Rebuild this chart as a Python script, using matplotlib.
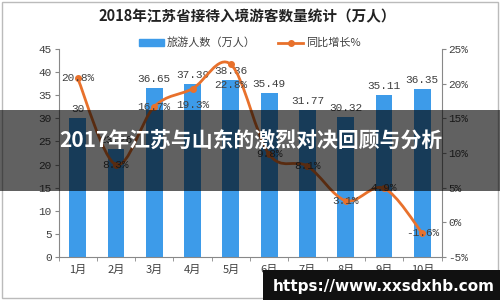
import matplotlib
matplotlib.use("Agg")
import matplotlib.pyplot as plt
import numpy as np
from matplotlib.path import Path
from matplotlib.patches import PathPatch, Rectangle
from matplotlib.lines import Line2D
from matplotlib.ticker import FuncFormatter, FixedLocator

plt.rcParams['font.family'] = ['Noto Sans CJK SC', 'DejaVu Sans']

months = ['1月', '2月', '3月', '4月', '5月', '6月', '7月', '8月', '9月', '10月']
visitors = [30, 23.26, 36.65, 37.39, 38.36, 35.49, 31.77, 30.32, 35.11, 36.35]
growth = [20.8, 8.3, 16.7, 19.3, 22.8, 9.8, 8.1, 3.1, 4.9, -1.6]
visitor_labels = ['30', '23.26', '36.65', '37.39', '38.36', '35.49', '31.77', '30.32', '35.11', '36.35']
growth_labels = ['20.8%', '8.3%', '16.7%', '19.3%', '22.8%', '9.8%', '8.1%', '3.1%', '4.9%', '-1.6%']
title = '2018年江苏省接待入境游客数量统计（万人）'
legend_bar = '旅游人数（万人）'
legend_line = '同比增长%'
overlay_title = '2017年江苏与山东的激烈对决回顾与分析'
url_text = 'https://www.xxsdxhb.com'

BLUE = '#3D9BE9'
ORANGE = '#E8712C'
GRAY = '#404040'
MONO = ['Liberation Mono', 'DejaVu Sans Mono']

fig = plt.figure(figsize=(5, 3), dpi=100)
fig.patch.set_facecolor('white')
ax = fig.add_axes([0.117, 0.144, 0.766, 0.692])

x = np.arange(len(months))
bars = ax.bar(x, visitors, width=0.44, color=BLUE, zorder=2)
ax.set_xlim(-0.5, len(months) - 0.5)
ax.set_ylim(0, 45)
ax.set_yticks(np.arange(0, 46, 5))
for s in ['top', 'right']:
    ax.spines[s].set_visible(False)
for s in ['left', 'bottom']:
    ax.spines[s].set_color('#888888')
    ax.spines[s].set_linewidth(0.8)
ax.tick_params(axis='y', direction='out', length=3, color='#888888', labelsize=8,
               labelcolor=GRAY, pad=2)
ax.set_xticks(x)
ax.set_xticklabels(months, fontsize=8, color=GRAY)
ax.tick_params(axis='x', length=0, pad=6)
ax.xaxis.set_minor_locator(FixedLocator(np.arange(-0.5, len(months), 1.0)))
ax.tick_params(axis='x', which='minor', direction='out', length=3, color='#888888')
for lab in ax.get_yticklabels():
    lab.set_family(MONO)

for xi, v, lab in zip(x, visitors, visitor_labels):
    ax.annotate(lab, (xi, v), xytext=(0, 3), textcoords='offset points',
                ha='center', va='bottom', fontsize=8, color=GRAY, family=MONO, zorder=5)

ax2 = ax.twinx()
ax2.set_position(ax.get_position())
ax2.set_ylim(-5, 25)
ax2.set_yticks(np.arange(-5, 26, 5))
ax2.yaxis.set_major_formatter(FuncFormatter(lambda v, p: f'{int(v)}%'))
for s in ['top', 'left', 'bottom']:
    ax2.spines[s].set_visible(False)
ax2.spines['right'].set_color('#888888')
ax2.spines['right'].set_linewidth(0.8)
ax2.tick_params(axis='y', direction='out', length=3, color='#888888', labelsize=8,
                labelcolor=GRAY, pad=2)
for lab in ax2.get_yticklabels():
    lab.set_family(MONO)

# smoothed line (Catmull-Rom -> Bezier), like Excel smooth line
P = np.column_stack([x, growth]).astype(float)
verts = [P[0]]
codes = [Path.MOVETO]
n = len(P)
for i in range(n - 1):
    p0 = P[i - 1] if i > 0 else P[i]
    p1 = P[i]
    p2 = P[i + 1]
    p3 = P[i + 2] if i + 2 < n else P[i + 1]
    c1 = p1 + (p2 - p0) / 6.0
    c2 = p2 - (p3 - p1) / 6.0
    verts += [c1, c2, p2]
    codes += [Path.CURVE4] * 3
ax2.add_patch(PathPatch(Path(verts, codes), facecolor='none', edgecolor=ORANGE, lw=2, zorder=3))
ax2.plot(x, growth, 'o', color=ORANGE, ms=4, zorder=4)

g_offsets = [0, 0, 0, -12, -15, 0, 0, 0, 0, 0]
for xi, g, lab, off in zip(x, growth, growth_labels, g_offsets):
    ax2.annotate(lab, (xi, g), xytext=(0, off), textcoords='offset points',
                 ha='center', va='center', fontsize=8, color=GRAY, family=MONO, zorder=5)

fig.text(0.495, 0.944, title, ha='center', va='center', fontsize=10.5, fontweight='bold',
         color='#222222')

handles = [Rectangle((0, 0), 1, 1, color=BLUE),
           Line2D([0], [0], color=ORANGE, lw=2, marker='o', ms=4)]
fig.legend(handles, [legend_bar, legend_line], loc='center', bbox_to_anchor=(0.5, 0.857),
           ncol=2, frameon=False, fontsize=8, handlelength=2.2, handleheight=0.6,
           columnspacing=2.0, handletextpad=0.3, labelcolor=GRAY)

# overlay band
fig.patches.append(Rectangle((0, 0.364), 1, 0.269, transform=fig.transFigure,
                             facecolor='black', alpha=0.62, edgecolor='none', zorder=10))
fig.text(0.502, 0.528, overlay_title, ha='center', va='center', fontsize=15,
         fontweight='bold', color='white', zorder=11)

# url box
fig.patches.append(Rectangle((0.526, 0), 0.474, 0.1, transform=fig.transFigure,
                             facecolor='#111111', edgecolor='none', zorder=10))
fig.text(0.767, 0.046, url_text, ha='center', va='center', fontsize=11, fontweight='bold',
         color='white', family=['DejaVu Sans'], zorder=11)

# border
fig.patches.append(Rectangle((0.004, 0.006), 0.992, 0.988, transform=fig.transFigure,
                             facecolor='none', edgecolor='#BBBBBB', lw=1, zorder=9))

fig.savefig('out.png', dpi=100)
